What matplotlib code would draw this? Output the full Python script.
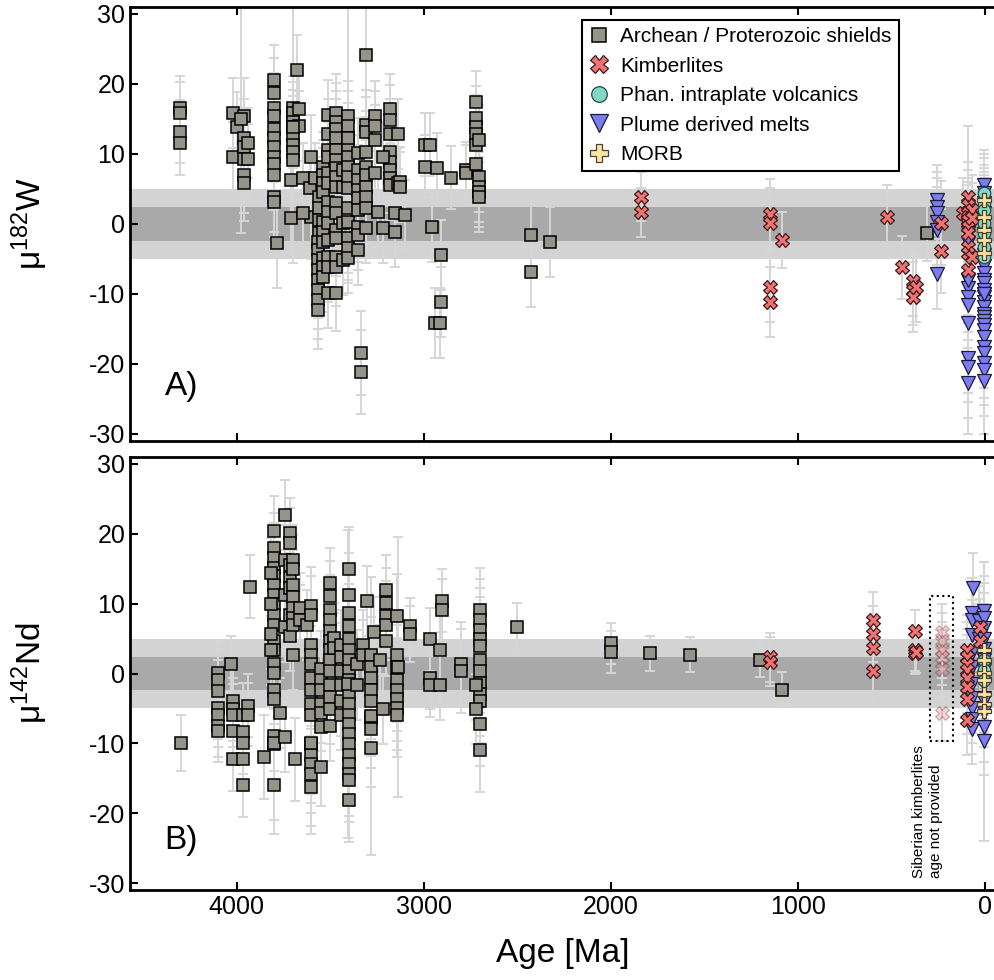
import numpy as np
import matplotlib
matplotlib.use("Agg")
import matplotlib.pyplot as plt
from matplotlib.patches import Rectangle

plt.rcParams['font.family'] = ['Liberation Sans', 'DejaVu Sans']
plt.rcParams['mathtext.default'] = 'regular'
plt.rcParams['axes.unicode_minus'] = False

# ---------------------------------------------------------------------------
# Data: each entry is (age [Ma], 2sd error, [mu values at that age])
# ---------------------------------------------------------------------------
# mu182W
w_shield = [
    (4305, 4.5, [16.6, 15.8, 13.2, 11.5]),
    (4021, 5.0, [15.8, 9.5]),
    (4000, 5.0, [13.8]),
    (3962, 5.5, [15.4, 12.3, 11.0, 9.3, 7.0, 5.9]),
    (3941, 5.0, [11.6, 9.3]),
    (3979, 16.3, [15.0]),
    (3802, 5.0, [20.5, 18.7, 16.6, 15.4, 13.5, 12.3, 11.0, 9.6, 8.5, 7.0, 3.9, 3.2]),
    (3785, 6.5, [-2.7]),
    (3700, 4.5, [16.6, 15.8, 14.6, 13.8, 12.5, 11.3, 10.3, 9.2]),
    (3678, 5.0, [22.0]),
    (3665, 5.0, [16.4, 14.0]),
    (3700, 19.4, [13.8]),
    (3603, 6.0, [9.6, 1.0]),
    (3710, 5.0, [6.3, 0.9]),
    (3645, 5.0, [6.6, 1.6]),
    (3607, 5.0, [5.2]),
    (3581, 5.0, [6.6]),
    (3560, 5.0, [3.9, 2.3, 0.6, -1.3]),
    (3565, 5.5, [-2.6, -3.7, -5.2, -6.6, -8.0, -9.5, -10.9, -12.3]),
    (3539, 5.0, [8.2, 7.0, 5.9, 4.6, 0.3, -1.1, -2.6, -4.9, -6.2, -7.6]),
    (3512, 5.0, [15.6, 12.8, 10.6, 9.6, 7.3, 5.9, 3.2, 1.7, 0.1, -2.3, -4.7, -6.2, -9.8]),
    (3469, 5.5, [15.9, 14.6, 13.5, 12.3, 10.6, 9.2, 8.0, 6.7, 5.3, 3.0, 1.6, -0.9,
                 -2.0, -4.7, -6.2, -9.8]),
    (3432, 5.0, [7.7, 5.3, 0.1, -5.2]),
    (3405, 5.0, [15.4, 14.0, 12.3, 10.9, 9.6, 8.2, 6.7, 5.2, 2.3, 0.3, -2.0, -3.4, -4.9]),
    (3405, 20.3, [12.3]),
    (3351, 5.0, [10.2, 7.7, 6.3, 4.9, 3.7, 2.0, -0.4, -1.6, -3.7]),
    (3308, 8.0, [24.2]),
    (3308, 5.0, [14.2, 13.1, 10.3, 8.2, 7.0, 5.3, 3.9, 2.3, -0.6]),
    (3335, 6.0, [-18.5, -21.2]),
    (3260, 5.0, [15.4, 14.0, 12.0, 7.3]),
    (3244, 5.0, [1.7]),
    (3180, 5.0, [16.4, 14.9, 12.8, 10.3, 8.9, 7.7, 6.6, 5.6]),
    (3137, 5.0, [12.8, 5.9]),
    (3217, 5.0, [-0.6, 9.5]),
    (3153, 5.0, [-1.1, 1.6]),
    (3126, 5.0, [6.0, 5.3]),
    (3100, 5.0, [1.3]),
    (2992, 4.5, [11.3, 8.2]),
    (2965, 4.5, [11.3]),
    (2954, 5.0, [-0.4]),
    (2928, 5.0, [8.0]),
    (2906, 5.0, [-4.4, -11.2]),
    (2937, 5.0, [-14.2]),
    (2915, 5.0, [-14.1]),
    (2852, 4.5, [6.6]),
    (2772, 4.0, [7.7, 7.3]),
    (2719, 4.5, [17.4, 15.2, 13.9, 12.8, 11.3, 8.5]),
    (2702, 5.0, [12.0, 6.7, 5.3, 4.6, 3.9]),
    (2424, 5.0, [-1.6, -6.9]),
    (2322, 5.0, [-2.6]),
    (311, 4.0, [-1.3]),
]
w_kimb = [
    (1839, 3.5, [3.9, 1.7]),
    (1147, 5.0, [1.4, 0.1, -9.0, -11.2]),
    (1083, 4.0, [-2.3]),
    (520, 4.5, [1.0]),
    (440, 4.5, [-6.2]),
    (381, 5.0, [-8.2, -9.5, -10.5]),
    (365, 5.0, [-9.0]),
    (236, 6.0, [0.1, -3.9]),
    (118, 5.0, [1.6]),
    (91, 5.0, [3.9, 2.7, 1.6, 1.0, 0.6, -0.4, -1.3, -3.3, -4.2, -6.6]),
    (70, 5.0, [2.0, 0.9, -4.7]),
]
w_intra = [
    (5, 4.0, [4.4, 3.0, 2.0, 0.1, -1.3, -3.3, -4.7]),
]
w_plume = [
    (257, 5.0, [3.4, 2.4, 1.6, 0.3, -0.9, -7.2]),
    (91, 5.0, [-1.3, -2.7, -8.0, -9.2, -10.5, -11.6, -14.2, -19.2, -20.5, -22.7]),
    (91, 22.0, [-8.0]),
    (3, 5.0, [5.6, 4.4, 3.0, 1.5, 0.0, -1.5, -3.0, -4.5, -6.0, -7.0, -8.0, -8.5, -9.5,
              -10.0, -10.5, -11.2, -11.9, -12.8, -13.3, -13.8, -14.5, -15.2, -16.2,
              -17.6, -18.5, -19.9, -20.9, -22.4]),
    (3, 20.0, [-10.0]),
]
w_morb = [
    (3, 4.0, [3.4, 1.0, -0.9, -2.3, -4.2]),
]

# mu142Nd
nd_shield = [
    (4300, 4.0, [-10.0]),
    (4102, 4.5, [0.1, -1.0, -2.5, -4.9, -6.0, -7.5, -8.2]),
    (4032, 4.0, [1.3]),
    (4022, 4.5, [-3.9, -5.1, -6.0, -8.2, -12.3]),
    (3968, 4.5, [-5.9, -8.4, -9.9, -12.3, -16.0]),
    (3941, 4.5, [-4.6, -5.9]),
    (3930, 4.5, [12.4]),
    (3855, 6.0, [-12.0]),
    (3802, 5.0, [20.4, 18.0, 16.6, 15.1, 14.0, 12.6, 11.3, 9.9, 8.4, 7.0, 4.7, 3.3, 1.3,
                 0.1, -2.3, -3.7, -8.9, -10.1, -16.0]),
    (3802, 13.0, [-10.0]),
    (3818, 5.0, [14.4, 9.9, 5.6, 3.3]),
    (3770, 5.0, [-5.6]),
    (3744, 5.0, [22.7, 16.3, 11.3, 6.6, -9.1]),
    (3716, 5.0, [20.1, 18.7, 15.6, 13.7, 12.3, 8.4, 5.4]),
    (3700, 5.0, [16.3, 14.9, 12.7, 10.9, 9.4, 8.0, 6.9, 2.7]),
    (3690, 6.0, [-12.3]),
    (3660, 5.0, [9.4, 7.6]),
    (3622, 5.0, [7.0]),
    (3603, 5.5, [9.7, 8.4, 4.1, 2.7, 1.3, -0.6, -2.4, -4.4, -5.9, -10.1, -11.7, -13.0,
                 -14.4, -16.3]),
    (3603, 13.0, [-10.0]),
    (3550, 5.5, [0.6, -0.9, -2.3, -4.4, -5.6, -7.7, -13.4]),
    (3501, 5.0, [13.0, 11.1, 9.1, 7.6, 6.1, 4.7, 3.3, 2.0, 0.4, -1.6, -3.4, -5.1, -7.5]),
    (3480, 5.0, [5.1, 3.7]),
    (3442, 5.0, [4.1, 2.3, 0.4, -1.6, -3.9, -5.9]),
    (3400, 6.0, [15.0, 11.2, 8.7, 6.8, 4.9, 3.3, 1.9, 0.4, -1.0, -3.0, -4.4, -5.9, -7.3,
                 -8.7, -10.1, -11.6, -13.0, -14.4, -15.3, -18.1]),
    (3405, 22.0, [-1.5]),
    (3357, 5.0, [1.3, -1.6]),
    (3324, 5.0, [4.1, 2.7]),
    (3303, 5.0, [10.4]),
    (3282, 5.5, [2.6, 0.9, -0.6, -2.4, -3.9, -6.3, -8.0, -10.7]),
    (3282, 19.9, [-6.1]),
    (3265, 5.0, [5.9]),
    (3233, 5.0, [1.9]),
    (3217, 5.0, [-5.1]),
    (3201, 5.0, [12.0, 10.1, 8.3, 6.9, 4.7]),
    (3142, 6.0, [8.3, 2.6, 0.9, -0.9, -2.3, -3.7, -4.9, -6.0]),
    (3137, 18.6, [0.9]),
    (3072, 4.0, [6.8, 5.6]),
    (2965, 4.5, [4.9, -0.6, -1.7]),
    (2900, 4.5, [10.4, 9.1]),
    (2910, 5.0, [3.4, -1.6]),
    (2800, 6.0, [1.4, 0.4]),
    (2697, 6.0, [9.1, 7.6, 6.3, 4.9, 4.0, 2.0, 0.4, -1.3, -3.0, -3.9, -7.3, -10.9]),
    (2719, 5.0, [-1.6, -5.1]),
    (2499, 3.5, [6.6]),
    (2000, 3.0, [4.3, 3.1]),
    (1791, 2.5, [2.9]),
    (1576, 2.5, [2.7]),
    (1201, 2.5, [2.0]),
    (1083, 2.5, [-2.3]),
]
nd_kimb = [
    (1147, 3.5, [2.3, 1.7]),
    (600, 4.0, [7.6, 5.6, 3.6, 0.4]),
    (375, 3.0, [6.1, 3.3, 3.0]),
    (365, 3.0, [3.1]),
    (97, 5.0, [3.4, 2.4, 1.4, 0.5, -0.6, -2.0, -3.7, -6.7]),
    (27, 4.0, [6.6, 4.6]),
]
nd_siberia = [
    (230, 4.0, [5.9, 4.7, 3.4, 2.3, 0.6, -5.7]),
]
nd_intra = [
    (5, 4.0, [2.0, 0.5, -1.0]),
]
nd_plume = [
    (64, 5.0, [12.3]),
    (70, 5.0, [8.7, 7.6, 5.5, 3.0, 1.0, -1.5, -3.5, -5.0, -6.5, -8.0]),
    (30, 5.0, [7.5, 5.0]),
    (2, 5.0, [9.0, 8.0, 6.5, 5.0, 3.5, 2.0, 0.5, -1.5, -3.5, -5.5, -7.7, -9.6]),
    (2, 20.0, [-4.0]),
]
nd_morb = [
    (3, 3.0, [3.3, 1.9, 0.1, -1.0, -3.0, -4.4, -5.3]),
]

labels = ["Archean / Proterozoic shields", "Kimberlites", "Phan. intraplate volcanics",
          "Plume derived melts", "MORB"]


def flatten(cols):
    ages, vals, errs = [], [], []
    for age, err, values in cols:
        for v in values:
            ages.append(age)
            vals.append(v)
            errs.append(err)
    return np.array(ages), np.array(vals), np.array(errs)


styles = {
    "shield": dict(marker='s', ms=8.3, mfc='#94948a', mec='black', mew=1.1),
    "kimb":   dict(marker='X', ms=10, mfc='#f27272', mec='#3a1a1a', mew=0.9),
    "intra":  dict(marker='o', ms=9, mfc='#82d8c8', mec='#2a4a44', mew=0.9),
    "plume":  dict(marker='v', ms=10, mfc='#7b7cf0', mec='#1a1a3a', mew=0.9),
    "morb":   dict(marker='P', ms=10.5, mfc='#ffe3a0', mec='#4a4030', mew=0.9),
}


def draw_panel(ax, groups):
    ax.axhspan(-5, 5, color='#d3d3d3', lw=0, zorder=0)
    ax.axhspan(-2.4, 2.4, color='#a9a9a9', lw=0, zorder=0)
    for key, cols, extra in groups:
        a, v, e = flatten(cols)
        ax.errorbar(a, v, yerr=e, fmt='none', ecolor='#d6d6d6', elinewidth=1.4,
                    capsize=3.5, capthick=1.4, zorder=1)
    handles = {}
    for key, cols, extra in groups:
        a, v, e = flatten(cols)
        st = dict(styles[key])
        st.update(extra)
        h, = ax.plot(a, v, ls='none', zorder=3, **st)
        handles.setdefault(key, h)
    ax.set_xlim(4570, -55)
    ax.set_ylim(-31, 31)
    ax.set_xticks([4000, 3000, 2000, 1000, 0])
    ax.set_yticks([-30, -20, -10, 0, 10, 20, 30])
    ax.tick_params(direction='in', top=True, bottom=True, left=True, right=False,
                   length=6, width=1.5, labelsize=18)
    for s in ax.spines.values():
        s.set_linewidth(2)
    ax.spines['right'].set_visible(False)
    return handles


fig = plt.figure(figsize=(9.95, 9.8), dpi=100)
ax1 = fig.add_axes([0.1307, 0.5500, 0.8693, 0.4429])
ax2 = fig.add_axes([0.1307, 0.0918, 0.8693, 0.4419])

h = draw_panel(ax1, [("shield", w_shield, {}), ("plume", w_plume, {}),
                     ("kimb", w_kimb, {}), ("intra", w_intra, {}), ("morb", w_morb, {})])
draw_panel(ax2, [("shield", nd_shield, {}), ("plume", nd_plume, {}),
                 ("kimb", nd_kimb, {}),
                 ("kimb", nd_siberia, dict(alpha=0.3)),
                 ("intra", nd_intra, {}), ("morb", nd_morb, {})])

ax1.tick_params(labelbottom=False)
ax1.set_ylabel('μ$^{182}$W', fontsize=24, labelpad=28)
ax2.set_ylabel('μ$^{142}$Nd', fontsize=24, labelpad=28)
ax2.set_xlabel('Age [Ma]', fontsize=24, labelpad=14)

ax1.text(0.04, 0.105, 'A)', transform=ax1.transAxes, fontsize=24)
ax2.text(0.04, 0.095, 'B)', transform=ax2.transAxes, fontsize=24)

leg = ax1.legend([h["shield"], h["kimb"], h["intra"], h["plume"], h["morb"]], labels,
                 loc='upper right', bbox_to_anchor=(0.889, 0.970), borderaxespad=0,
                 fontsize=15, handlelength=1.0, handletextpad=0.5, labelspacing=0.5,
                 borderpad=0.35, markerscale=1.25, fancybox=False, framealpha=1,
                 edgecolor='black')
leg.get_frame().set_linewidth(1.5)

# Siberian kimberlites with no age
ax2.add_patch(Rectangle((295, -9.6), -125, 20.7, fill=False, ls=':', lw=1.5,
                        ec='black', zorder=4))
ax2.text(306, -29.3, 'Siberian kimberlites\nage not provided', rotation=90,
         ha='center', va='bottom', fontsize=11, multialignment='left')

fig.savefig('out.png', dpi=100)
